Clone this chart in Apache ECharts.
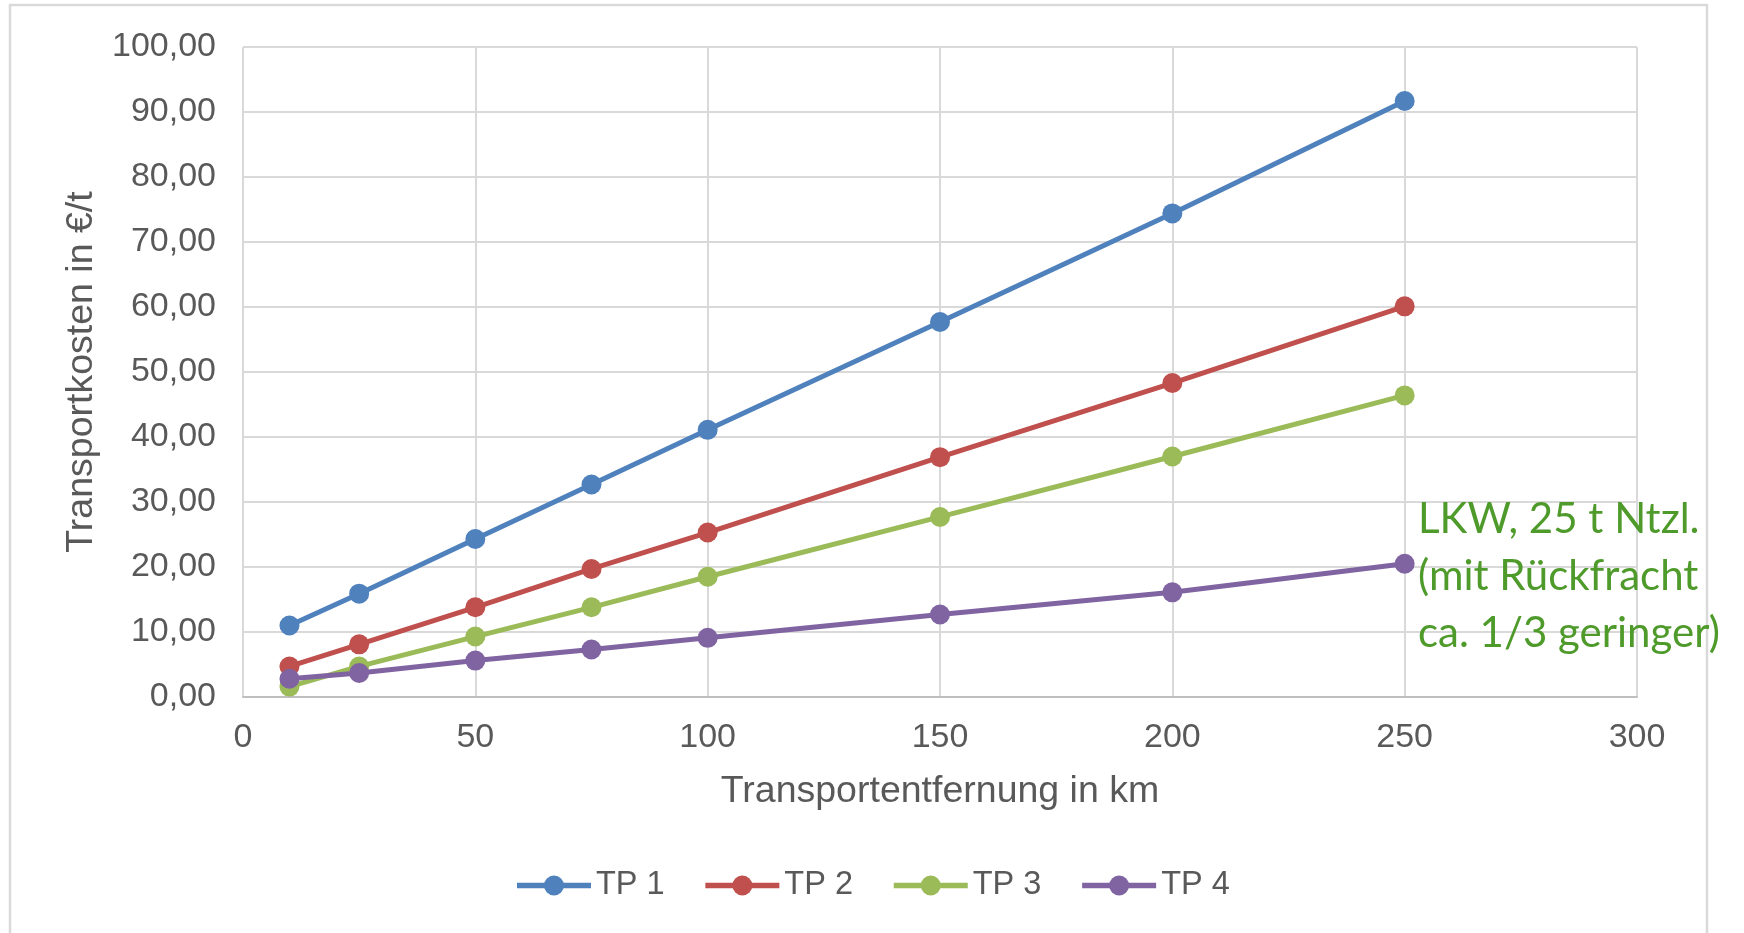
<!DOCTYPE html>
<html>
<head>
<meta charset="utf-8">
<script src="https://cdn.jsdelivr.net/npm/echarts@6/dist/echarts.min.js"></script>
<style>
html,body{margin:0;padding:0;background:#fff;}
#chart{width:1744px;height:933px;}
</style>
</head>
<body>
<div id="chart"></div>
<script>
const distances = [10, 25, 50, 75, 100, 150, 200, 250];
const seriesNames = ['TP 1', 'TP 2', 'TP 3', 'TP 4'];
const tp1 = [11.0, 15.9, 24.3, 32.7, 41.1, 57.7, 74.4, 91.7];
const tp2 = [4.7, 8.1, 13.8, 19.7, 25.3, 36.9, 48.3, 60.1];
const tp3 = [1.6, 4.7, 9.3, 13.8, 18.5, 27.7, 37.0, 46.4];
const tp4 = [2.8, 3.7, 5.6, 7.3, 9.1, 12.7, 16.1, 20.5];
const annotationLines = ['LKW, 25 t Ntzl.', '(mit Rückfracht', 'ca. 1/3 geringer)'];
const xTitle = 'Transportentfernung in km';
const yTitle = 'Transportkosten in €/t';

const colors = ['#4F81BD', '#C0504D', '#9BBB59', '#8064A2'];
const allValues = [tp1, tp2, tp3, tp4];

const chart = echarts.init(document.getElementById('chart'));
const txt = '#595959';
const font = '"Liberation Sans", Arial, sans-serif';

chart.setOption({
  animation: false,
  backgroundColor: '#fff',
  color: colors,
  grid: { left: 243, right: 107, top: 47, bottom: 236, containLabel: false },
  xAxis: {
    type: 'value', min: 0, max: 300, interval: 50,
    name: xTitle, nameLocation: 'middle', nameGap: 76,
    nameTextStyle: { color: txt, fontSize: 37.5, fontFamily: font },
    axisLine: { show: true, lineStyle: { color: '#BFBFBF', width: 2 } },
    axisTick: { show: false },
    axisLabel: { color: txt, fontSize: 34, fontFamily: font, margin: 24 },
    splitLine: { show: true, lineStyle: { color: '#D9D9D9', width: 2 } }
  },
  yAxis: {
    type: 'value', min: 0, max: 100, interval: 10,
    name: yTitle, nameLocation: 'middle', nameGap: 139, nameRotate: 90,
    nameTextStyle: { color: txt, fontSize: 37.5, fontFamily: font },
    axisLine: { show: false },
    axisTick: { show: false },
    axisLabel: { color: txt, fontSize: 34, fontFamily: font, margin: 27,
      formatter: v => v.toFixed(2).replace('.', ',') },
    splitLine: { show: true, lineStyle: { color: '#D9D9D9', width: 2 } }
  },
  legend: {
    data: seriesNames,
    bottom: 26, left: 'center',
    itemWidth: 74, itemHeight: 25, itemGap: 38,
    lineStyle: { width: 5.5 },
    textStyle: { color: txt, fontSize: 32.5, fontFamily: font }
  },
  series: seriesNames.map((n, i) => ({
    name: n, type: 'line',
    data: distances.map((d, j) => [d, allValues[i][j]]),
    symbol: 'circle', symbolSize: 20,
    lineStyle: { width: 5, color: colors[i] },
    itemStyle: { color: colors[i] },
    z: 2 + i
  })),
  graphic: [
    { type: 'rect', shape: { x: 10, y: 5, width: 1697, height: 1000 },
      style: { fill: 'none', stroke: '#D9D9D9', lineWidth: 2.5 }, silent: true, z: -1 },
    { type: 'text', left: 1418, top: 491, z: 100,
      style: { text: annotationLines.join('\n'), fill: '#4E9A2A', fontSize: 42,
        fontFamily: 'Lato, "Open Sans", sans-serif', lineHeight: 57 } }
  ]
});
</script>
</body>
</html>
